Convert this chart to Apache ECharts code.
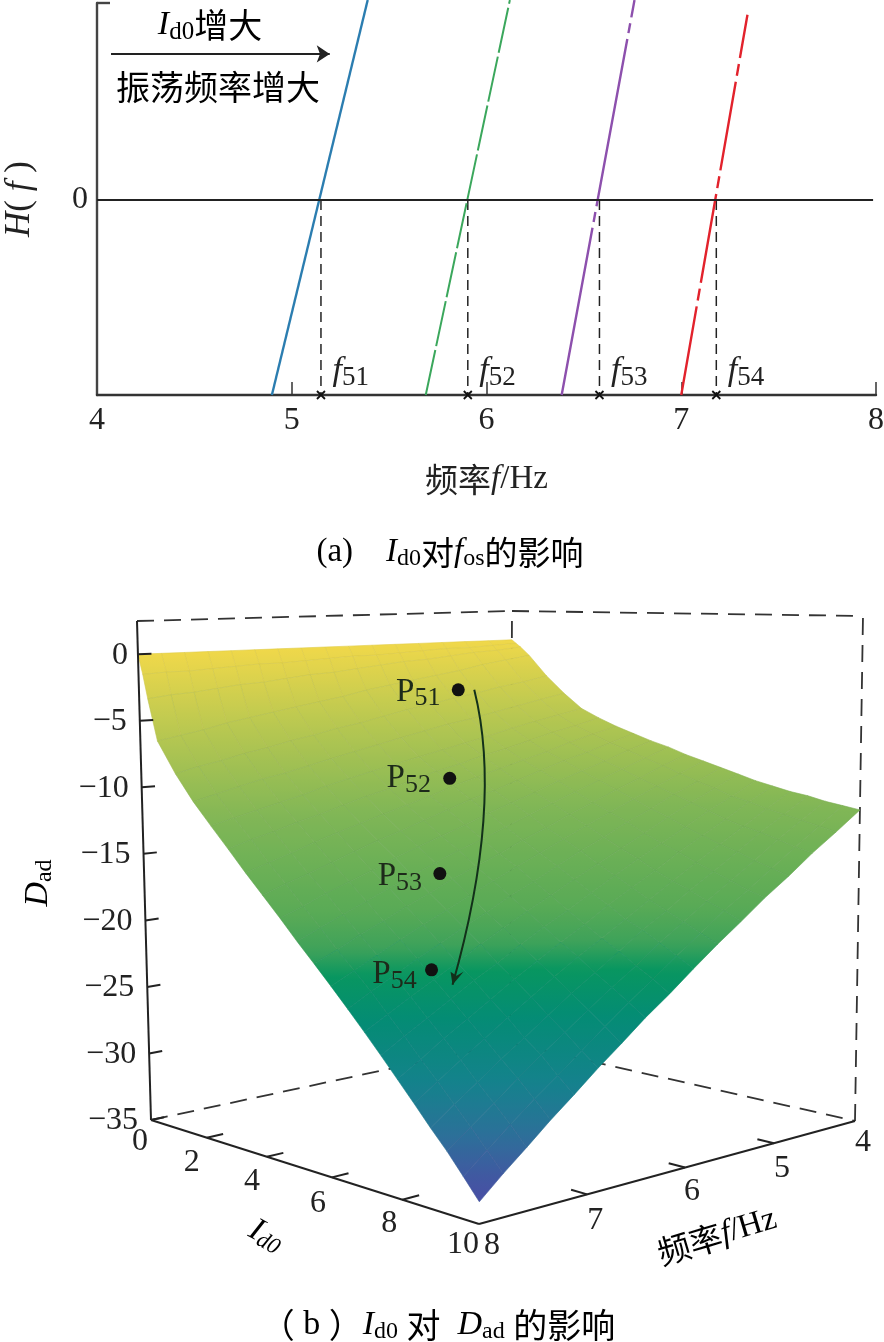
<!DOCTYPE html>
<html><head><meta charset="utf-8">
<style>html,body{margin:0;padding:0;background:#fff}#c{width:884px;height:1342px}</style>
<script src="https://cdn.jsdelivr.net/npm/echarts@6/dist/echarts.min.js"></script>
</head><body><div id="c"></div>
<script>
// ---------- panel (a) data ----------
const freqTicks=[4,5,6,7,8];
const curveBlue=[[4.898,-1],[5.39,1.025]];
const curveGreen=[[5.688,-1],[6.12,1.025]];
const curvePurple=[[6.386,-1],[6.76,1.025]];
const curveRed=[[7.0,-1],[7.34,0.95]];
const crossFreqs=[5.15,5.904,6.58,7.18];
const crossNames=['51','52','53','54'];
// ---------- panel (b) data ----------
const idTicks=[0,2,4,6,8,10];
const fTicks=[4,5,6,7,8];
const zTicks=[0,-5,-10,-15,-20,-25,-30,-35];
const idGrid=[0,0.15,0.30,0.60,1.19,1.77,2.34,2.89,3.43,3.96,4.49,5.00,5.50,5.99,6.47,6.94,7.40,7.85,8.30,8.74,9.17,9.59,10];
const fGrid=[4,4.30,4.59,4.87,5.15,5.42,5.68,5.94,6.19,6.44,6.68,6.91,7.14,7.36,7.58,7.79,8];
const Dad=[
[0,0,0,0,0,0,0,0,0,0,0,0,0,0,0,0,0],
[-0.3,-0.4,-0.5,-0.5,-0.6,-0.7,-0.8,-0.8,-0.9,-1.0,-1.1,-1.1,-1.2,-1.3,-1.4,-1.4,-1.5],
[-0.6,-0.8,-0.9,-1.1,-1.3,-1.4,-1.6,-1.8,-2.0,-2.1,-2.3,-2.5,-2.6,-2.8,-3.0,-3.1,-3.3],
[-1.3,-1.6,-1.9,-2.3,-2.6,-2.9,-3.2,-3.5,-3.9,-4.2,-4.5,-4.8,-5.1,-5.4,-5.8,-6.1,-6.4],
[-3.0,-3.4,-3.7,-4.1,-4.4,-4.8,-5.1,-5.5,-5.9,-6.2,-6.6,-6.9,-7.3,-7.6,-8.0,-8.3,-8.7],
[-4.4,-4.8,-5.2,-5.6,-6.0,-6.3,-6.7,-7.1,-7.5,-7.9,-8.3,-8.7,-9.1,-9.4,-9.8,-10.2,-10.6],
[-5.6,-6.0,-6.4,-6.8,-7.3,-7.7,-8.1,-8.5,-8.9,-9.3,-9.7,-10.1,-10.6,-11.0,-11.4,-11.8,-12.2],
[-6.3,-6.8,-7.2,-7.7,-8.2,-8.6,-9.1,-9.5,-10.0,-10.5,-10.9,-11.4,-11.9,-12.3,-12.8,-13.2,-13.7],
[-6.9,-7.4,-7.9,-8.5,-9.0,-9.5,-10.0,-10.5,-11.1,-11.6,-12.1,-12.6,-13.1,-13.6,-14.2,-14.7,-15.2],
[-7.4,-8.0,-8.6,-9.1,-9.7,-10.3,-10.9,-11.4,-12.0,-12.6,-13.2,-13.7,-14.3,-14.9,-15.5,-16.0,-16.6],
[-7.9,-8.5,-9.2,-9.8,-10.4,-11.1,-11.7,-12.3,-13.0,-13.6,-14.2,-14.8,-15.5,-16.1,-16.7,-17.4,-18.0],
[-8.3,-9.0,-9.7,-10.4,-11.1,-11.8,-12.5,-13.2,-13.9,-14.5,-15.2,-15.9,-16.6,-17.3,-18.0,-18.7,-19.4],
[-8.8,-9.5,-10.3,-11.0,-11.8,-12.5,-13.3,-14.0,-14.8,-15.5,-16.2,-17.0,-17.7,-18.5,-19.2,-20.0,-20.7],
[-9.2,-10,-10.8,-11.6,-12.4,-13.2,-14,-14.8,-15.6,-16.4,-17.2,-18,-18.8,-19.6,-20.4,-21.2,-22],
[-9.6,-10.5,-11.3,-12.2,-13.0,-13.9,-14.7,-15.6,-16.5,-17.3,-18.2,-19.0,-19.9,-20.7,-21.6,-22.4,-23.3],
[-10,-10.9,-11.8,-12.7,-13.7,-14.6,-15.5,-16.4,-17.3,-18.2,-19.1,-20,-21,-21.9,-22.8,-23.7,-24.6],
[-10.4,-11.4,-12.3,-13.3,-14.3,-15.2,-16.2,-17.2,-18.2,-19.1,-20.1,-21.1,-22,-23,-24,-24.9,-25.9],
[-10.7,-11.7,-12.8,-13.8,-14.8,-15.9,-16.9,-17.9,-19,-20,-21,-22,-23.1,-24.1,-25.1,-26.2,-27.2],
[-11,-12.1,-13.2,-14.3,-15.4,-16.5,-17.6,-18.7,-19.8,-20.8,-21.9,-23,-24.1,-25.2,-26.3,-27.4,-28.5],
[-11.2,-12.4,-13.5,-14.7,-15.9,-17,-18.2,-19.3,-20.5,-21.7,-22.8,-24,-25.2,-26.3,-27.5,-28.6,-29.8],
[-11.5,-12.7,-13.9,-15.2,-16.4,-17.6,-18.8,-20,-21.3,-22.5,-23.7,-24.9,-26.1,-27.3,-28.6,-29.8,-31],
[-11.7,-13,-14.3,-15.6,-16.9,-18.1,-19.4,-20.7,-22,-23.3,-24.6,-25.9,-27.2,-28.4,-29.7,-31,-32.3],
[-11.9,-13.3,-14.6,-16,-17.3,-18.7,-20,-21.4,-22.8,-24.1,-25.5,-26.8,-28.2,-29.5,-30.9,-32.2,-33.6]
];
const pointNames=['51','52','53','54'];
const pointId=[1.35,3.2,4.9,6.4];
const pointF=[5.15,5.9,6.6,7.2];
const pointD=[-3.7,-10,-16.1,-21.7];

// ---------- fonts ----------
const SERIF='"Liberation Serif","Noto Sans CJK SC",serif';
const CJK='"Noto Sans CJK SC","Liberation Serif",sans-serif';
const INK='#222';
function richSet(sz,sub){return {
  i:{fontFamily:SERIF,fontStyle:'italic',fontSize:sz,color:INK},
  r:{fontFamily:SERIF,fontSize:sz,color:INK},
  c:{fontFamily:CJK,fontSize:sz,color:INK},
  s:{fontFamily:SERIF,fontSize:sub,color:INK,padding:[Math.round(sz*0.42),0,0,0]}
};}

// ---------- 3-D box projection ----------
const BOX={ // screen corners of the plotted box: [Id0,f8],[Id10,f8],[Id0,f4],[Id10,f4]
  b:[[151,1120],[479,1224],[510,1043],[855,1121]],
  t:[[137,621],[487,630],[512,611],[863,616]]
};
const ZMIN=-35,ZMAX=2.5,RU=1.22,RV=0.825;
function project(id,f,z){
  const tu=id/10,tv=(8-f)/4;
  const u=tu/(tu+RU*(1-tu)), v=tv/(tv+RV*(1-tv));
  const w=(z-ZMIN)/(ZMAX-ZMIN);
  function bil(c,k){return (1-u)*(1-v)*c[0][k]+u*(1-v)*c[1][k]+(1-u)*v*c[2][k]+u*v*c[3][k];}
  return [bil(BOX.b,0)*(1-w)+bil(BOX.t,0)*w, bil(BOX.b,1)*(1-w)+bil(BOX.t,1)*w];
}
const colorStops=[ // D value -> surface colour
 [0,[240,216,74]],[-5,[192,202,80]],[-12,[128,182,86]],[-18,[88,170,86]],[-20,[62,162,90]],
 [-21.5,[8,150,96]],[-24,[4,140,116]],[-27.5,[20,130,140]],[-30,[42,114,152]],[-32,[62,92,160]],[-34,[76,74,166]]
];
function colorOf(z){
  for(let i=1;i<colorStops.length;i++){
    const a=colorStops[i-1],b=colorStops[i];
    if(z>=b[0]){const k=(a[0]-z)/(a[0]-b[0]);
      return [0,1,2].map(j=>Math.round(a[1][j]+(b[1][j]-a[1][j])*k));}
  }
  return colorStops[colorStops.length-1][1];
}
const rgb=c=>'rgb('+c.join(',')+')';

// ---------- custom layers on a hidden full-page scale ----------
const cellData=[];
for(let i=0;i<idGrid.length-1;i++)for(let j=0;j<fGrid.length-1;j++)cellData.push([i,j]);
function renderCell(params,api){
  const i=api.value(0),j=api.value(1);
  const vs=[[i,j],[i+1,j],[i+1,j+1],[i,j+1]].map(q=>{
    const z=Dad[q[0]][q[1]];
    return {z:z,s:project(idGrid[q[0]],fGrid[q[1]],z)};
  });
  const pts=vs.map(v=>api.coord(v.s));
  let top=vs[0],bot=vs[0];
  vs.forEach(v=>{if(v.s[1]<top.s[1])top=v;if(v.s[1]>bot.s[1])bot=v;});
  const zm=(top.z+bot.z)/2, cm=colorOf(zm);
  const stops=[];
  const n=4;
  for(let k=0;k<=n;k++){stops.push({offset:k/n,color:rgb(colorOf(top.z+(bot.z-top.z)*k/n))});}
  return {type:'polygon',shape:{points:pts},style:{
    fill:new echarts.graphic.LinearGradient(0,0,0,1,stops),
    stroke:rgb(cm.map(c=>Math.round(c*0.95))),lineWidth:0.6}};
}
function seg(a,b){return [a[0],a[1],b[0],b[1]];}
function lineLayer(segs,style,z){
  return {type:'custom',xAxisIndex:1,yAxisIndex:1,coordinateSystem:'cartesian2d',clip:false,z:z,silent:true,
    data:segs,animation:false,
    renderItem:function(p,api){
      const a=api.coord([api.value(0),api.value(1)]),b=api.coord([api.value(2),api.value(3)]);
      return {type:'line',shape:{x1:a[0],y1:a[1],x2:b[0],y2:b[1]},style:Object.assign({fill:null},style)};
    }};
}
function textLayer(items,z){
  return {type:'custom',xAxisIndex:1,yAxisIndex:1,coordinateSystem:'cartesian2d',clip:false,z:z,silent:true,animation:false,
    data:items.map((t,i)=>[t.at[0],t.at[1],i]),
    renderItem:function(p,api){
      const t=items[api.value(2)],c=api.coord([api.value(0),api.value(1)]);
      return {type:'text',x:c[0],y:c[1],style:{text:t.text,fontFamily:SERIF,fontSize:32,fill:INK,align:t.align||'center',verticalAlign:'middle'}};
    }};
}
const pBoxL=project(0,8,ZMIN),pBoxF=project(10,8,ZMIN),pBoxB=project(0,4,ZMIN),pBoxR=project(10,4,ZMIN);
const tBoxL=project(0,8,ZMAX),tBoxB=project(0,4,ZMAX),tBoxR=project(10,4,ZMAX);
const dashedSegs=[seg(pBoxL,pBoxB),seg(pBoxB,pBoxR),seg(tBoxL,tBoxB),seg(tBoxB,tBoxR),seg(pBoxB,tBoxB),seg(pBoxR,tBoxR)];
const solidSegs=[seg(pBoxL,tBoxL),seg(pBoxL,pBoxF),seg(pBoxF,pBoxR)];
zTicks.forEach(z=>solidSegs.push(seg(project(0,8,z),project(0,7.88,z))));
idTicks.slice(1,5).forEach(d=>solidSegs.push(seg(project(d,8,ZMIN),project(d,7.85,ZMIN))));
fTicks.slice(1,4).forEach(f=>solidSegs.push(seg(project(10,f,ZMIN),project(9.6,f,ZMIN))));

const zLabels=zTicks.map(z=>{const p=project(0,8,z);return {at:[p[0]-(z===0?10:13),p[1]+1],text:(z<0?'\u2212':'')+Math.abs(z),align:'right'};});
const idOffsets=[[-11,22],[-15,25],[-15,25],[-14,26],[-13,24],[-16,21]];
const idLabels=idTicks.map((d,i)=>{const p=project(d,8,ZMIN);return {at:[p[0]+idOffsets[i][0],p[1]+idOffsets[i][1]],text:String(d)};});
const fOffsets=[[8,22],[8,25],[7,24],[8,26],[13,22]];
const fLabels=fTicks.map((f,i)=>{const p=project(10,f,ZMIN);return {at:[p[0]+fOffsets[i][0],p[1]+fOffsets[i][1]],text:String(f)};});

const pointXY=pointNames.map((n,i)=>project(pointId[i],pointF[i],pointD[i]));
const pointOffsets=[[-40,2],[-41,0],[-40,3],[-37,5]];

// ---------- option ----------
const opt={
  animation:false,backgroundColor:'#fff',
  grid:[{left:97,top:3,width:779,height:392,outerBoundsMode:'none'},{left:0,top:0,width:884,height:1342,outerBoundsMode:'none'}],
  xAxis:[{type:'value',gridIndex:0,min:4,max:8,interval:1,
      axisLine:{onZero:false,lineStyle:{color:'#333',width:2.4}},
      axisTick:{inside:true,length:13,lineStyle:{color:'#333',width:1.5},customValues:freqTicks.slice(1)},
      splitLine:{show:false},
      axisLabel:{fontFamily:SERIF,fontSize:32,color:INK,margin:10,hideOverlap:false,showMinLabel:true,showMaxLabel:true},
      name:'{c|频率}{i|f}{r|/Hz}',nameLocation:'middle',nameGap:68,nameTextStyle:{rich:richSet(33,20)}},
    {type:'value',gridIndex:1,min:0,max:884,show:false}],
  yAxis:[{type:'value',gridIndex:0,min:-1,max:1.01,
      axisLine:{onZero:false,show:true,lineStyle:{color:'#444',width:2.4}},
      axisTick:{show:true,inside:true,length:13,customValues:[1.01],lineStyle:{color:'#444',width:2.4}},
      splitLine:{show:false},
      axisLabel:{fontFamily:SERIF,fontSize:32,color:INK,margin:9,customValues:[0],formatter:v=>String(Math.round(v))},
      name:'{i|H}{r|(}{i| f }{r|)}',nameLocation:'middle',nameGap:60,nameRotate:90,nameTextStyle:{rich:richSet(35,20)}},
    {type:'value',gridIndex:1,min:0,max:1342,inverse:true,show:false}],
  graphic:[
    {type:'text',x:210,y:25,z:50,style:{text:'{i|I}{s|d0}{c|增大}',rich:richSet(34,25),align:'center',verticalAlign:'middle'}},
    {type:'text',x:218,y:87,z:50,style:{text:'{c|振荡频率增大}',rich:richSet(34,25),align:'center',verticalAlign:'middle'}},
    {type:'text',x:450,y:552,z:50,style:{text:'{r|(a)    }{i|I}{s|d0}{c|对}{i|f}{s|os}{c|的影响}',rich:richSet(33,24),align:'center',verticalAlign:'middle'}},
    {type:'text',x:438,y:1325,z:50,style:{text:'{c|（}{r| b }{c|）}{i|I}{s|d0}{r| }{c|对}{r|  }{i|D}{s|ad}{r| }{c|的影响}',rich:richSet(34,24),align:'center',verticalAlign:'middle'}},
    {type:'text',x:38,y:883,z:50,rotation:Math.PI/2,style:{text:'{i|D}{s|ad}',rich:richSet(34,24),align:'center',verticalAlign:'middle'}},
    {type:'text',x:266,y:1236,z:50,rotation:-0.5,style:{text:'{i|I}{t|d0}',rich:Object.assign(richSet(33,23),{t:{fontFamily:SERIF,fontStyle:'italic',fontSize:23,color:INK,padding:[12,0,0,0]}}),align:'center',verticalAlign:'middle'}},
    {type:'text',x:717,y:1236,z:50,rotation:0.29,style:{text:'{c|频率}{i|f}{r|/Hz}',rich:richSet(33,20),align:'center',verticalAlign:'middle'}}
  ],
  series:[
    {type:'line',data:curveBlue,showSymbol:false,clip:false,lineStyle:{color:'#2b7db0',width:2.4},z:3},
    {type:'line',data:curveGreen,showSymbol:false,clip:false,lineStyle:{color:'#3ba75c',width:2,type:[46,4]},z:3},
    {type:'line',data:curvePurple,showSymbol:false,clip:false,lineStyle:{color:'#8d50ad',width:2.4,type:[170,6,10,6]},z:3},
    {type:'line',data:curveRed,showSymbol:false,clip:false,lineStyle:{color:'#e2222c',width:2.4,type:[90,6,12,6]},z:3},
    {type:'line',data:[[4,0],[7.985,0]],showSymbol:false,clip:false,lineStyle:{color:'#222',width:2},z:4},
    ...crossFreqs.map(f=>({type:'line',data:[[f,0],[f,-1]],showSymbol:false,lineStyle:{color:'#222',width:1.5,type:[10,6]},z:2})),
    {type:'scatter',data:crossFreqs.map(f=>[f,-1]),symbol:'path://M0 0L10 10M10 0L0 10',symbolSize:8,
      itemStyle:{color:'none',borderColor:'#111',borderWidth:1.8,opacity:1},z:5,
      label:{show:true,position:'right',distance:0,offset:[5,-24],
        formatter:p=>'{i|f}{s|'+crossNames[p.dataIndex]+'}',rich:richSet(34,27)}},
    {type:'line',data:[],markLine:{silent:true,symbol:['none','arrow'],symbolSize:13,
      label:{show:false},lineStyle:{color:'#222',width:1.8,type:'solid'},
      data:[[{coord:[4.072,0.749]},{coord:[5.195,0.749]}]]}},
    // panel (b)
    lineLayer(dashedSegs,{stroke:'#333',lineWidth:1.8,lineDash:[17,10]},6),
    {type:'custom',xAxisIndex:1,yAxisIndex:1,coordinateSystem:'cartesian2d',clip:false,z:8,silent:true,
     data:cellData,renderItem:renderCell,progressive:0,animation:false},
    lineLayer(solidSegs,{stroke:'#222',lineWidth:2},9),
    textLayer(zLabels.concat(idLabels,fLabels),10),
    {type:'scatter',xAxisIndex:1,yAxisIndex:1,data:pointXY,symbol:'circle',symbolSize:13,silent:true,z:11,
      itemStyle:{color:'#111',opacity:1},
      label:{show:true,position:'inside',
        offset:[0,0],
        formatter:p=>'{p|P}{s|'+pointNames[p.dataIndex]+'}',
        rich:{p:{fontFamily:SERIF,fontSize:33,color:'#1d2a1a'},s:{fontFamily:SERIF,fontSize:26,color:'#1d2a1a',padding:[13,0,0,0]}}},
      labelLayout:function(p){const o=pointOffsets[p.dataIndex];return {dx:o[0],dy:o[1]};}
    },
    {type:'custom',xAxisIndex:1,yAxisIndex:1,coordinateSystem:'cartesian2d',clip:false,z:12,silent:true,animation:false,
     data:[[0]],renderItem:function(p,api){
       const s=pointXY[0],e=pointXY[3];
       const A=api.coord([s[0]+16,s[1]]),B=api.coord([e[0]+21,e[1]+15]),C=[A[0]+29,A[1]+116];
       return {type:'group',children:[
         {type:'bezierCurve',shape:{x1:A[0],y1:A[1],x2:B[0],y2:B[1],cpx1:C[0],cpy1:C[1]},style:{stroke:'#12301a',lineWidth:2,fill:null}},
         {type:'polygon',shape:{points:[[B[0],B[1]],[B[0]-2,B[1]-13],[B[0]+4,B[1]-9],[B[0]+11,B[1]-13]]},style:{fill:'#12301a'}}
       ]};
     }}
  ]
};
const chart=echarts.init(document.getElementById('c'),null,{renderer:'canvas',width:884,height:1342});
chart.setOption(opt);
</script></body></html>
